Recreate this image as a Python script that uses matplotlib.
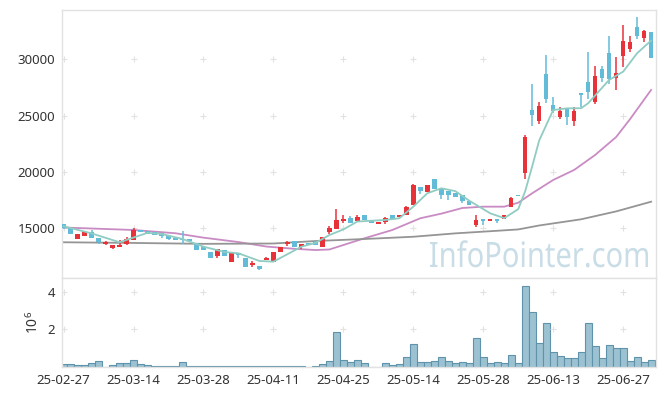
import numpy as np
import matplotlib
matplotlib.use('Agg')
import matplotlib.pyplot as plt
from matplotlib.textpath import TextPath
from matplotlib.patches import PathPatch
from matplotlib.transforms import Affine2D, IdentityTransform
from matplotlib.font_manager import FontProperties

plt.rcParams['font.family'] = ['Noto Sans', 'DejaVu Sans']
plt.rcParams['mathtext.default'] = 'regular'

# daily candles (index 0 = 25-02-27, trading days only)
opens = [15360, 15000, 14050, 14340, 14640, 14140, 13630, 13280, 13370, 13580,
         13990, 14880, 14760, 14640, 14580, 14320, 14110, 14000, 14050, 13690,
         13370, 12920, 12570, 13070, 12030, 12780, 12390, 11740, 11680, 12210,
         12030, 12920, 13580, 13850, 13310, 13720, 13760, 13310, 14640, 14910,
         15670, 15910, 15620, 16150, 15740, 15380, 15560, 16150, 15980, 16150,
         17040, 18690, 18220, 19400, 18520, 18340, 18160, 17980, 17400, 15270,
         15800, 15620, 15800, 15800, 16920, 17980, 19930, 25500, 24500, 28700,
         25930, 24860, 25620, 24500, 26990, 27960, 26240, 29150, 30570, 28370,
         30330, 30920, 32880, 31870, 32400]
closes = [15000, 14520, 14490, 14640, 14170, 13810, 13750, 13520, 13520, 14050,
          14820, 14650, 14520, 14400, 14290, 14050, 13930, 13960, 13870, 13100,
          13100, 12390, 13160, 12570, 12830, 12630, 11560, 11950, 11390, 12390,
          12920, 13370, 13810, 13310, 13610, 13540, 13490, 14200, 15030, 15740,
          15850, 15440, 15980, 15740, 15440, 15560, 15910, 15850, 16150, 16920,
          18820, 18340, 18870, 18460, 17930, 17980, 17800, 17450, 17040, 15740,
          15620, 15800, 15680, 16150, 17690, 17860, 23070, 25030, 25860, 26510,
          25450, 25450, 24860, 25450, 26810, 27070, 28500, 28370, 28260, 28790,
          31630, 31510, 32110, 32520, 30090]
highs = [15400, 15000, 14490, 14640, 14850, 14140, 13870, 13520, 13930, 14230,
         15050, 14880, 14760, 14640, 14580, 14320, 14110, 14760, 14050, 13690,
         13370, 12920, 13160, 13070, 12830, 12800, 12390, 12100, 11680, 12450,
         12920, 13370, 13900, 13850, 13610, 13720, 13900, 14200, 15200, 16690,
         16200, 16090, 16150, 16150, 15740, 15560, 16000, 16150, 16150, 17000,
         18910, 18690, 18870, 19400, 18520, 18340, 18160, 17980, 17400, 16150,
         15800, 15800, 15800, 16150, 17800, 17980, 23260, 27820, 26220, 30420,
         26630, 25800, 25620, 25740, 26990, 30680, 29390, 29390, 32110, 30210,
         33060, 32050, 33780, 32640, 32400]
lows = [14950, 14520, 14050, 14340, 14170, 13580, 13520, 13140, 13310, 13520,
        13990, 14650, 14520, 14400, 14170, 13940, 13930, 13580, 13870, 13100,
        13100, 12390, 12390, 12570, 12030, 12340, 11560, 11600, 11300, 12150,
        12030, 12920, 13450, 13310, 13140, 13540, 13490, 13310, 14490, 14910,
        15500, 15440, 15620, 15740, 15440, 15380, 15400, 15850, 15980, 16150,
        17040, 18050, 18220, 18460, 17630, 17510, 17800, 17220, 17040, 15140,
        15270, 15620, 15440, 15800, 16900, 17860, 19420, 24080, 24260, 26100,
        25260, 24680, 24150, 24080, 25800, 26480, 26060, 27960, 27840, 27310,
        29330, 30680, 31810, 31510, 30090]
# volume in millions
volume = [0.14, 0.14, 0.09, 0.09, 0.20, 0.32, 0.02, 0.09, 0.20, 0.20,
          0.37, 0.14, 0.09, 0.03, 0.03, 0.07, 0.03, 0.27, 0.03, 0.07,
          0.03, 0.03, 0.03, 0.03, 0.03, 0.03, 0.03, 0.03, 0.03, 0.07,
          0.03, 0.03, 0.03, 0.03, 0.03, 0.0, 0.03, 0.14, 0.32, 1.86,
          0.37, 0.27, 0.37, 0.19, 0.02, 0.02, 0.19, 0.09, 0.14, 0.51,
          1.22, 0.27, 0.27, 0.32, 0.51, 0.32, 0.19, 0.27, 0.19, 1.54,
          0.51, 0.19, 0.27, 0.19, 0.62, 0.19, 4.31, 2.91, 1.26, 2.32,
          0.78, 0.57, 0.46, 0.46, 0.78, 2.32, 1.10, 0.46, 1.15, 0.99,
          0.99, 0.34, 0.51, 0.28, 0.39]

# moving averages
ma5_x = [0, 4, 8, 12, 14, 17, 20, 23, 25, 28, 30, 32, 34, 36, 38, 40, 42, 46, 48,
         50, 52, 54, 56, 58, 61, 63, 65, 66, 67, 68, 70, 72, 74, 75, 78, 80, 82, 84]
ma5 = [15180, 14550, 13760, 14600, 14500, 14050, 13370, 12900, 12780, 12100, 12040,
       12700, 13370, 13700, 14400, 14900, 15600, 15740, 15890, 16920, 18110, 18550,
       18300, 17450, 16330, 15900, 16700, 18300, 20500, 22800, 25500, 25650, 25660,
       26100, 28170, 28900, 30540, 31660]
ma20_x = [0, 10, 16, 20, 25, 29, 33, 36, 38, 43, 47, 51, 54, 57, 60, 63, 65, 67,
          70, 73, 76, 79, 81, 84]
ma20 = [15070, 14850, 14560, 14170, 13780, 13380, 13180, 13070, 13120, 14110, 14850,
        15890, 16300, 16800, 16920, 16920, 17270, 18110, 19290, 20180, 21510, 23100,
        24700, 27280]
ma60_x = [0, 10, 20, 30, 36, 43, 50, 56, 62, 65, 68, 74, 79, 84]
ma60 = [13760, 13700, 13620, 13650, 13870, 14050, 14250, 14550, 14780, 14900,
        15250, 15800, 16500, 17360]

tick_pos = [0, 10, 20, 30, 40, 50, 60, 70, 80]
tick_labels = ['25-02-27', '25-03-14', '25-03-28', '25-04-11', '25-04-25',
               '25-05-14', '25-05-28', '25-06-13', '25-06-27']

up_c = '#e8323a'
dn_c = '#62bcd8'
grid_c = '#e2e2e2'

fig = plt.figure(figsize=(6.65, 3.96), dpi=100)
ax = fig.add_axes([62 / 665, 1 - 278.3 / 396, 594 / 665, 268.3 / 396])
axv = fig.add_axes([62 / 665, 1 - 367 / 396, 594 / 665, 88.7 / 396], sharex=ax)

x = np.arange(len(opens))
o = np.array(opens); c = np.array(closes)
cols = [up_c if cc >= oo else dn_c for oo, cc in zip(o, c)]
bot = np.minimum(o, c)
hgt = np.maximum(np.abs(c - o), 60)
ax.vlines(x, lows, highs, colors=cols, linewidth=1.1, zorder=3)
ax.bar(x, hgt, bottom=bot, width=0.64, color=cols, linewidth=0, zorder=4)

ax.plot(ma5_x, ma5, color='#90ccc2', lw=1.3, zorder=5)
ax.plot(ma20_x, ma20, color='#c98bc3', lw=1.3, zorder=2)
ax.plot(ma60_x, ma60, color='#959595', lw=1.3, zorder=2)

ax.set_xlim(-0.23, 84.7)
ax.set_ylim(10562, 34376)
ax.set_yticks([15000, 20000, 25000, 30000])

axv.bar(x, volume, width=1.0, color='#9cc2d2', edgecolor='#5e93ab', linewidth=0.8)
axv.set_ylim(0, 4.72)
axv.set_yticks([2, 4])
axv.set_ylabel(r'$10^6$', fontsize=10, color='#333333', labelpad=4)
axv.set_xticks(tick_pos)
axv.set_xticklabels(tick_labels)

for a, yt in ((ax, [15000, 20000, 25000, 30000]), (axv, [2, 4])):
    gx, gy = np.meshgrid(tick_pos, yt)
    a.scatter(gx.ravel(), gy.ravel(), marker='+', s=18, color=grid_c, linewidths=0.8, zorder=1)
    for s in a.spines.values():
        s.set_color(grid_c)
        s.set_linewidth(1.0)
    a.tick_params(axis='both', length=0, labelsize=9.5, labelcolor='#333333', pad=5)

ax.tick_params(axis='x', labelbottom=False)

# watermark, squeezed to the narrow look of the original
tp = TextPath((0, 0), 'InfoPointer.com', size=35, prop=FontProperties(family='Noto Sans'))
ext = tp.get_extents()
sx = 218 / ext.width
tr = Affine2D().translate(-ext.x1, 0).scale(sx, 1).translate(648, 396 - 267)
fig.patches.append(PathPatch(tp, transform=tr + IdentityTransform(), facecolor='#c9dde7',
                             edgecolor='none', zorder=0))

plt.savefig('out.png', dpi=100)
